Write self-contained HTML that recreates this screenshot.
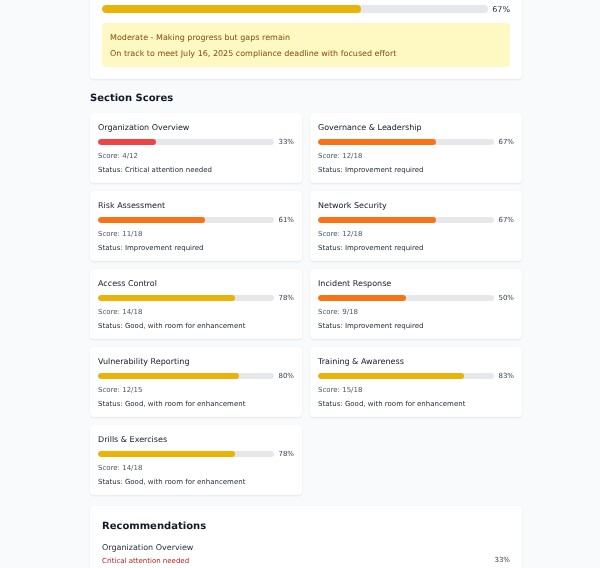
<!DOCTYPE html>
<html><head><meta charset="utf-8">
<style>
*{box-sizing:border-box;margin:0;padding:0}
html,body{width:600px;height:568px;overflow:hidden}
body{text-rendering:geometricPrecision;background:#f8fafc;font-family:"DejaVu Sans","Liberation Sans",sans-serif;color:#1f2937;position:relative}
.wrap{position:absolute;left:90px;width:432px;top:0}
.card{background:#fff;border-radius:4px;box-shadow:0 1px 2px rgba(0,0,0,.08),0 0 1px rgba(0,0,0,.06)}
.top{position:absolute;left:0;top:-20px;width:432px;height:98.5px;padding:0 12px}
.bar{height:8px;border-radius:4px;background:#e5e7eb;position:relative;overflow:hidden}
.bar i{position:absolute;left:0;top:0;bottom:0;border-radius:4px;display:block}
.pct{position:absolute;font-size:8px;color:#374151}
.note{position:absolute;left:12px;top:43px;width:408px;height:44px;background:#fef9c3;border-radius:4px;color:#854d0e;font-size:8px;padding:6.5px 8px}
.note p{line-height:16px}
h2{position:absolute;left:0;top:91px;font-size:10px;font-weight:bold;color:#111827;line-height:16px}
.sc{position:absolute;width:212px;height:70px}
.sc .t{position:absolute;left:8px;top:9px;font-size:8px;line-height:12px;color:#111827}
.sc .bar{position:absolute;left:8px;top:26px;width:176px;height:6px;border-radius:3px}
.sc .pct{right:8px;top:24px;font-size:7px;line-height:10px}
.sc .s1{position:absolute;left:8px;top:38px;font-size:7px;line-height:10px;color:#4b5563}
.sc .s2{position:absolute;left:8px;top:52px;font-size:7px;line-height:10px;color:#1f2937}
.rec{position:absolute;left:0;top:506px;width:432px;height:100px}
.rec h3{position:absolute;left:12px;top:13px;font-size:10px;font-weight:bold;color:#111827;line-height:16px}
.rec .a{position:absolute;left:12px;top:36px;font-size:8px;line-height:12px}
.rec .b{position:absolute;left:12px;top:49.5px;font-size:7px;line-height:10px;color:#b91c1c}
.rec .c{position:absolute;right:12px;top:49px;font-size:7px;line-height:10px;color:#374151}
</style></head><body>
<div class="wrap">
<div class="card top">
  <div class="bar" style="position:absolute;left:12px;top:25px;width:386px"><i style="width:67%;background:#eab308"></i></div>
  <div class="pct" style="right:12px;top:24px;font-size:8px;line-height:12px;color:#1f2937">67%</div>
  <div class="note"><p>Moderate - Making progress but gaps remain</p><p>On track to meet July 16, 2025 compliance deadline with focused effort</p></div>
</div>
<h2>Section Scores</h2>

<div class="card sc" style="left:0;top:113px"><div class="t">Organization Overview</div><div class="bar"><i style="width:33%;background:#ef4444"></i></div><div class="pct">33%</div><div class="s1">Score: 4/12</div><div class="s2">Status: Critical attention needed</div></div>
<div class="card sc" style="left:220px;top:113px"><div class="t">Governance &amp; Leadership</div><div class="bar"><i style="width:67%;background:#f97316"></i></div><div class="pct">67%</div><div class="s1">Score: 12/18</div><div class="s2">Status: Improvement required</div></div>

<div class="card sc" style="left:0;top:191px"><div class="t">Risk Assessment</div><div class="bar"><i style="width:61%;background:#f97316"></i></div><div class="pct">61%</div><div class="s1">Score: 11/18</div><div class="s2">Status: Improvement required</div></div>
<div class="card sc" style="left:220px;top:191px"><div class="t">Network Security</div><div class="bar"><i style="width:67%;background:#f97316"></i></div><div class="pct">67%</div><div class="s1">Score: 12/18</div><div class="s2">Status: Improvement required</div></div>

<div class="card sc" style="left:0;top:269px"><div class="t">Access Control</div><div class="bar"><i style="width:78%;background:#eab308"></i></div><div class="pct">78%</div><div class="s1">Score: 14/18</div><div class="s2">Status: Good, with room for enhancement</div></div>
<div class="card sc" style="left:220px;top:269px"><div class="t">Incident Response</div><div class="bar"><i style="width:50%;background:#f97316"></i></div><div class="pct">50%</div><div class="s1">Score: 9/18</div><div class="s2">Status: Improvement required</div></div>

<div class="card sc" style="left:0;top:347px"><div class="t">Vulnerability Reporting</div><div class="bar"><i style="width:80%;background:#eab308"></i></div><div class="pct">80%</div><div class="s1">Score: 12/15</div><div class="s2">Status: Good, with room for enhancement</div></div>
<div class="card sc" style="left:220px;top:347px"><div class="t">Training &amp; Awareness</div><div class="bar"><i style="width:83%;background:#eab308"></i></div><div class="pct">83%</div><div class="s1">Score: 15/18</div><div class="s2">Status: Good, with room for enhancement</div></div>

<div class="card sc" style="left:0;top:425px"><div class="t">Drills &amp; Exercises</div><div class="bar"><i style="width:78%;background:#eab308"></i></div><div class="pct">78%</div><div class="s1">Score: 14/18</div><div class="s2">Status: Good, with room for enhancement</div></div>

<div class="card rec"><h3>Recommendations</h3><div class="a">Organization Overview</div><div class="b">Critical attention needed</div><div class="c">33%</div></div>
</div>
</body></html>
